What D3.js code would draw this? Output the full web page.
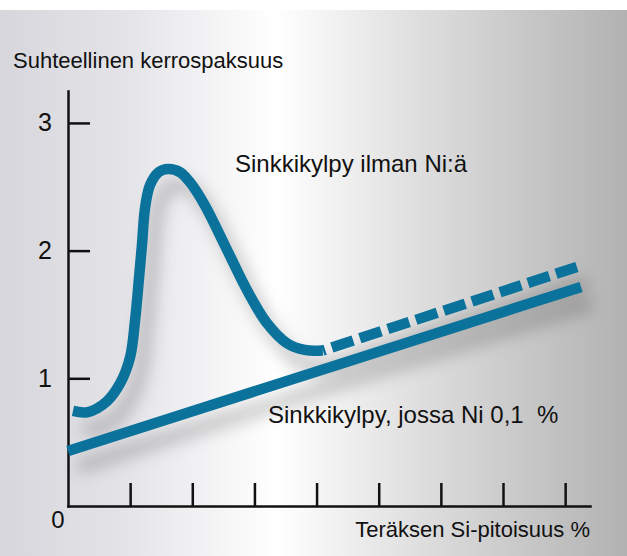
<!DOCTYPE html>
<html>
<head>
<meta charset="utf-8">
<script src="https://cdn.jsdelivr.net/npm/d3@7"></script>
<style>
  body { margin: 0; background: #fff; }
  svg { display: block; font-family: "Liberation Sans", Arial, Helvetica, sans-serif; }
  .axis path, .axis line { stroke: #111; stroke-width: 2.5; }
  .axis text { font-size: 25px; fill: #111; font-family: "Liberation Sans", Arial, sans-serif; }
</style>
</head>
<body>
<script>
// values (x = Si content, y = relative coating thickness)
var noNiCurve = [
  [0.08, 0.744], [0.32, 0.736], [0.63, 0.822], [0.85, 0.971], [1.00, 1.167],
  [1.08, 1.457], [1.14, 1.770], [1.19, 2.044], [1.24, 2.334], [1.32, 2.514],
  [1.46, 2.615], [1.61, 2.639], [1.80, 2.615], [1.96, 2.537], [2.20, 2.357],
  [2.56, 2.005], [2.88, 1.691], [3.20, 1.433], [3.52, 1.276], [3.81, 1.222],
  [4.10, 1.218]
];
var noNiDashed = [[4.10, 1.218], [8.19, 1.872]];
var withNiLine = [[0, 0.431], [8.256, 1.715]];
var xTicks = [1, 2, 3, 4, 5, 6, 7, 8];
var yTicks = [1, 2, 3];
var yTitle = "Suhteellinen kerrospaksuus";
var xTitle = "Teräksen Si-pitoisuus %";
var labelNoNi = "Sinkkikylpy ilman Ni:ä";
var labelWithNi = "Sinkkikylpy, jossa Ni 0,1\u00a0\u00a0%";

window.onload = drawChart();

function drawChart(){
  var width = 627,
      height = 556;
  var blue = "#0b729b";

  var svg = d3.select("body")
    .append("svg")
    .attr("width", width)
    .attr("height", height);

  var defs = svg.append("defs");

  //background: light grey left, white middle, grey right
  var grad = defs.append("linearGradient")
    .attr("id", "bg")
    .attr("x1", "0%").attr("x2", "100%")
    .attr("y1", "0%").attr("y2", "0%");
  grad.append("stop").attr("offset", "0%").attr("stop-color", "#d6d6dc");
  grad.append("stop").attr("offset", "20%").attr("stop-color", "#e4e4e8");
  grad.append("stop").attr("offset", "44%").attr("stop-color", "#ffffff");
  grad.append("stop").attr("offset", "70%").attr("stop-color", "#dadada");
  grad.append("stop").attr("offset", "100%").attr("stop-color", "#b2b2b2");

  var blur = defs.append("filter")
    .attr("id", "shadow")
    .attr("x", "-20%").attr("y", "-20%")
    .attr("width", "140%").attr("height", "140%");
  blur.append("feGaussianBlur").attr("stdDeviation", 8);

  svg.append("rect")
    .attr("x", 0).attr("y", 10)
    .attr("width", width).attr("height", height - 10)
    .attr("fill", "url(#bg)");

  //scales
  var x = d3.scaleLinear()
    .domain([0, 8.4])
    .range([68, 590]);

  var y = d3.scaleLinear()
    .domain([0, 3.25])
    .range([506, 91]);

  var line = d3.line()
    .x(function(d){ return x(d[0]); })
    .y(function(d){ return y(d[1]); });

  var smooth = d3.line()
    .x(function(d){ return x(d[0]); })
    .y(function(d){ return y(d[1]); })
    .curve(d3.curveCatmullRom.alpha(0.5));

  //soft shadows under the lines
  var shade = svg.append("g")
    .attr("transform", "translate(10,16)")
    .attr("filter", "url(#shadow)")
    .attr("fill", "none")
    .attr("stroke", "#000")
    .attr("stroke-opacity", 0.2)
    .attr("stroke-width", 14);
  shade.append("path").attr("d", smooth(noNiCurve));
  shade.append("path").attr("d", line(noNiDashed));
  shade.append("path").attr("d", line(withNiLine));

  //axes
  var yAxis = d3.axisLeft(y)
    .tickValues(yTicks)
    .tickFormat(d3.format("d"))
    .tickSizeInner(-22)
    .tickSizeOuter(0)
    .tickPadding(16);

  var xAxis = d3.axisBottom(x)
    .tickValues(xTicks)
    .tickFormat("")
    .tickSizeInner(-23)
    .tickSizeOuter(0);

  svg.append("g")
    .attr("class", "axis")
    .attr("transform", "translate(" + x(0) + ",0)")
    .call(yAxis);

  svg.append("g")
    .attr("class", "axis")
    .attr("transform", "translate(0," + y(0) + ")")
    .call(xAxis);

  svg.selectAll(".axis .domain").attr("stroke-linecap", "square");

  svg.append("text")
    .attr("x", x(0) - 10)
    .attr("y", y(0) + 22)
    .attr("text-anchor", "middle")
    .attr("font-size", 24)
    .attr("fill", "#111")
    .text("0");

  //data lines
  svg.append("path")
    .attr("d", smooth(noNiCurve))
    .attr("fill", "none")
    .attr("stroke", blue)
    .attr("stroke-width", 10.5);

  svg.append("path")
    .attr("d", line(noNiDashed))
    .attr("fill", "none")
    .attr("stroke", blue)
    .attr("stroke-width", 10.5)
    .attr("stroke-dasharray", "22.5 7")
    .attr("stroke-dashoffset", 20);

  svg.append("path")
    .attr("d", line(withNiLine))
    .attr("fill", "none")
    .attr("stroke", blue)
    .attr("stroke-width", 10.5);

  //texts
  svg.append("text")
    .attr("x", 13).attr("y", 68)
    .attr("font-size", 22)
    .attr("fill", "#111")
    .text(yTitle);

  svg.append("text")
    .attr("x", 590).attr("y", 537)
    .attr("text-anchor", "end")
    .attr("font-size", 22)
    .attr("fill", "#111")
    .text(xTitle);

  svg.append("text")
    .attr("x", 235).attr("y", 172)
    .attr("font-size", 24)
    .attr("fill", "#111")
    .text(labelNoNi);

  svg.append("text")
    .attr("x", 268).attr("y", 423)
    .attr("font-size", 24)
    .attr("fill", "#111")
    .text(labelWithNi);
};
</script>
</body>
</html>
